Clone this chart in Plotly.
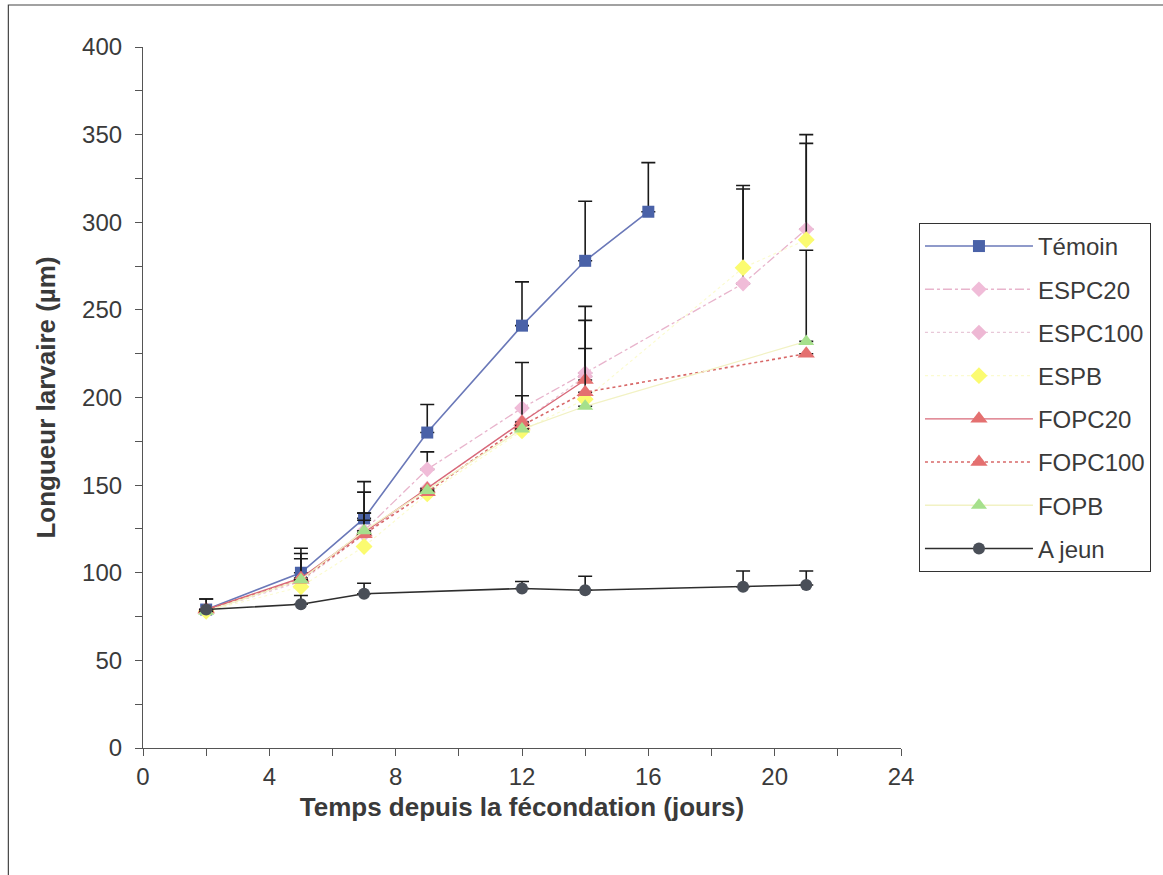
import plotly.graph_objects as go

# Days after fertilisation
days_temoin = [2, 5, 7, 9, 12, 14, 16]
days_esp = [2, 5, 7, 9, 12, 14, 19, 21]
days_espc100 = [2, 5, 7, 9, 12, 14]
days_fop = [2, 5, 7, 9, 12, 14]
days_fop_long = [2, 5, 7, 9, 12, 14, 21]
days_jeun = [2, 5, 7, 12, 14, 19, 21]

# Mean larval length (µm) and upper standard deviation
temoin = [79, 100, 131, 180, 241, 278, 306]
temoin_sd = [6, 14, 21, 16, 25, 34, 28]

espc20 = [79, 96, 124, 159, 194, 214, 265, 296]
espc20_sd = [0, 0, 10, 10, 26, 38, 54, 54]

espc100 = [78, 95, 122, 148, 186, 212]
espc100_sd = [0, 0, 0, 0, 15, 0]

espb = [78, 92, 115, 145, 181, 199, 274, 290]
espb_sd = [0, 16, 0, 0, 0, 0, 47, 55]

fopc20 = [79, 97, 123, 148, 186, 210]
fopc20_sd = [0, 14, 23, 0, 0, 34]

fopc100 = [79, 96, 122, 146, 184, 203, 225]
fopc100_sd = [0, 0, 8, 0, 0, 25, 0]

fopb = [78, 96, 124, 147, 182, 195, 232]
fopb_sd = [0, 0, 10, 0, 0, 0, 52]

jeun = [79, 82, 88, 91, 90, 92, 93]
jeun_sd = [6, 5, 6, 4, 8, 9, 8]

TEXT = "#3a3a3a"
FONT = "Liberation Sans, Arial, sans-serif"

series = [
    ("Témoin", days_temoin, temoin, temoin_sd,
     dict(color="#6a78b8", width=1.6, dash="solid"),
     dict(symbol="square", size=12, color="#4a62a8")),
    ("ESPC20", days_esp, espc20, espc20_sd,
     dict(color="#e8b4cc", width=1.3, dash="dashdot"),
     dict(symbol="diamond", size=12, color="#f0bcd8")),
    ("ESPC100", days_espc100, espc100, espc100_sd,
     dict(color="#e8c8d8", width=1.3, dash="dot"),
     dict(symbol="diamond", size=12, color="#eeb8d4")),
    ("ESPB", days_esp, espb, espb_sd,
     dict(color="#fbfbd0", width=1.2, dash="dot"),
     dict(symbol="diamond", size=13, color="#fbfb70")),
    ("FOPC20", days_fop, fopc20, fopc20_sd,
     dict(color="#d86878", width=1.4, dash="solid"),
     dict(symbol="triangle-up", size=15, color="#e47070")),
    ("FOPC100", days_fop_long, fopc100, fopc100_sd,
     dict(color="#d86868", width=1.6, dash="dot"),
     dict(symbol="triangle-up", size=15, color="#e47070")),
    ("FOPB", days_fop_long, fopb, fopb_sd,
     dict(color="#f2f2c4", width=1.3, dash="solid"),
     dict(symbol="triangle-up", size=14, color="#a6e08c")),
    ("A jeun", days_jeun, jeun, jeun_sd,
     dict(color="#2e2e2e", width=1.6, dash="solid"),
     dict(symbol="circle", size=12, color="#4a4f58")),
]

fig = go.Figure()
for i, (name, x, y, sd, line, marker) in enumerate(series):
    fig.add_trace(go.Scatter(
        x=x, y=y, name=name, mode="lines+markers",
        line=line, marker=marker,
        legendgroup=f"g{i}",
        error_y=dict(type="data", symmetric=False, array=sd,
                     arrayminus=[0] * len(sd), color="#1a1a1a",
                     thickness=1.6, width=7),
    ))

fig.update_layout(
    width=1163, height=875,
    margin=dict(l=143, r=260, t=47, b=127),
    paper_bgcolor="white", plot_bgcolor="white",
    font=dict(family=FONT, color=TEXT, size=24),
    showlegend=True,
    legend=dict(
        x=1.0237, y=0.749, xanchor="left", yanchor="top",
        bordercolor="#333333", borderwidth=1, bgcolor="white",
        font=dict(family=FONT, size=24, color=TEXT),
        tracegroupgap=9, itemwidth=108,
    ),
    xaxis=dict(
        range=[0, 24], dtick=4, tick0=0,
        showgrid=False, zeroline=False,
        showline=True, linecolor="#555555", linewidth=1.2,
        ticks="outside", ticklen=7, tickcolor="#555555",
        minor=dict(dtick=2, ticks="outside", ticklen=7, tickcolor="#555555"),
        tickfont=dict(size=24, color=TEXT),
        title=dict(text="<b>Temps depuis la fécondation (jours)</b>",
                   font=dict(size=26, color=TEXT), standoff=8),
    ),
    yaxis=dict(
        range=[0, 400], dtick=50, tick0=0,
        showgrid=False, zeroline=False,
        showline=True, linecolor="#555555", linewidth=1.2,
        ticks="outside", ticklen=7, tickcolor="#555555",
        ticklabelstandoff=8,
        minor=dict(dtick=25, ticks="outside", ticklen=7, tickcolor="#555555"),
        tickfont=dict(size=24, color=TEXT),
        title=dict(text="<b>Longueur larvaire (µm)</b>",
                   font=dict(size=26, color=TEXT), standoff=18),
    ),
    shapes=[dict(
        type="rect", xref="paper", yref="paper",
        x0=(8 - 143) / 760, x1=(1170 - 143) / 760,
        y0=(748 - 880) / 701, y1=(748 - 5) / 701,
        line=dict(color="#444444", width=1.2), layer="below",
    )],
)

fig.write_html("out.html")
